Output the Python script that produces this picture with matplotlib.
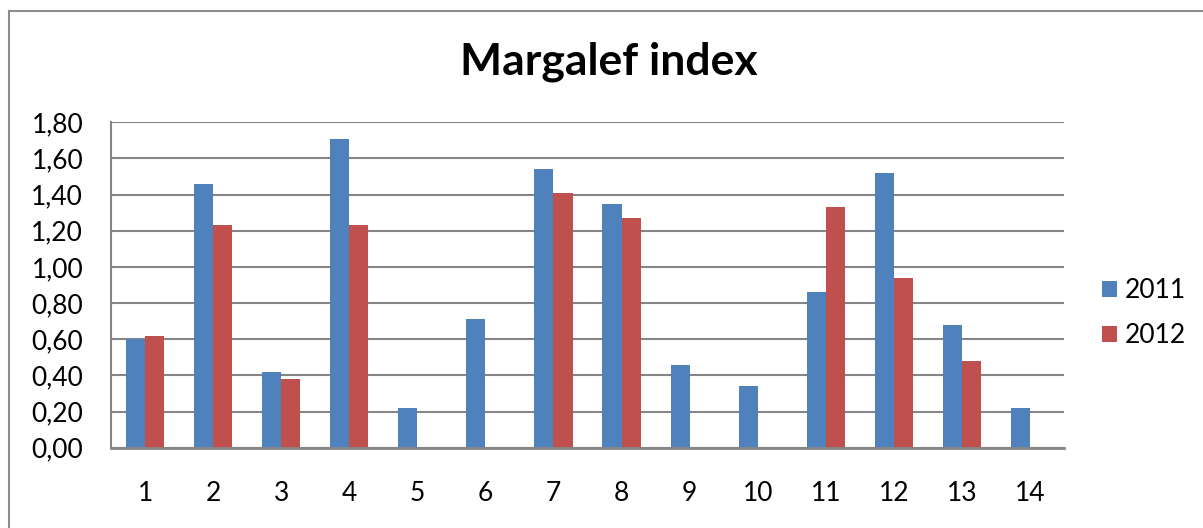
import matplotlib
matplotlib.use("Agg")
import matplotlib.pyplot as plt
import numpy as np
from matplotlib.lines import Line2D

categories = ["1", "2", "3", "4", "5", "6", "7", "8", "9", "10", "11", "12", "13", "14"]
values_2011 = [0.60, 1.46, 0.42, 1.71, 0.22, 0.71, 1.54, 1.35, 0.46, 0.34, 0.86, 1.52, 0.68, 0.22]
values_2012 = [0.62, 1.23, 0.38, 1.23, 0.0, 0.0, 1.41, 1.27, 0.0, 0.0, 1.33, 0.94, 0.48, 0.0]
series_labels = ["2011", "2012"]
y_ticks = [0.0, 0.2, 0.4, 0.6, 0.8, 1.0, 1.2, 1.4, 1.6, 1.8]

plt.rcParams['font.family'] = ['Lato', 'DejaVu Sans']

W, H = 1203, 528
fig = plt.figure(figsize=(W / 100, H / 100), dpi=100)
ax = fig.add_axes([111 / W, 1 - 447.7 / H, (1064 - 111) / W, (447.7 - 122.3) / H])

x = np.arange(len(categories))
bw = 0.28
blue = "#4F81BD"
red = "#C0504D"
ax.bar(x - bw / 2, values_2011, width=bw, color=blue, label=series_labels[0], zorder=3)
ax.bar(x + bw / 2, values_2012, width=bw, color=red, label=series_labels[1], zorder=3)

ax.set_xlim(-0.5, len(categories) - 0.5)
ax.set_ylim(0, 1.8)
ax.set_yticks(y_ticks)
ax.set_yticklabels([f"{v:.2f}".replace(".", ",") for v in y_ticks])
ax.set_xticks(x)
ax.set_xticklabels(categories)
ax.tick_params(axis='both', length=0, labelsize=19)
ax.tick_params(axis='y', pad=20)
ax.tick_params(axis='x', pad=24)
ax.grid(axis='y', color="#868686", linewidth=1.5, zorder=0)
for s in ["top", "right"]:
    ax.spines[s].set_visible(False)
ax.spines["left"].set_color("#868686")
ax.spines["left"].set_linewidth(1.5)
ax.spines["bottom"].set_color("#868686")
ax.spines["bottom"].set_linewidth(2)
ax.spines["bottom"].set_zorder(4)

fig.text(609 / W, 1 - 62 / H, "Margalef index", ha="center", va="center",
         fontsize=32, fontweight="bold")

handles, labels = ax.get_legend_handles_labels()
fig.legend(handles, labels, loc="center left", bbox_to_anchor=(1084 / W, 1 - 313 / H),
           frameon=False, fontsize=19, handlelength=0.55, handleheight=0.55,
           handletextpad=0.3, labelspacing=0.75, borderpad=0.2)

# outer chart border (left and top edges visible)
fig.add_artist(Line2D([8.5 / W, 8.5 / W], [1 - 10.5 / H, 0], transform=fig.transFigure,
                      color="#8c8c8c", linewidth=1.5))
fig.add_artist(Line2D([8.5 / W, 1], [1 - 10.5 / H, 1 - 10.5 / H], transform=fig.transFigure,
                      color="#8c8c8c", linewidth=1.5))

fig.savefig("out.png", dpi=100, facecolor="white")
